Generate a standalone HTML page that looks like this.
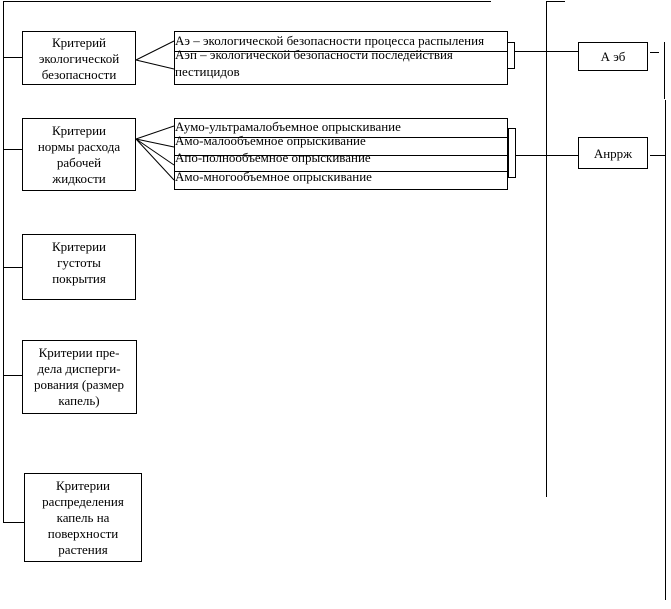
<!DOCTYPE html>
<html><head><meta charset="utf-8"><style>
html,body{margin:0;padding:0;background:#fff;}
svg text{font-family:"Liberation Serif",serif;font-size:13px;fill:#000;}
</style></head><body>
<svg width="671" height="604" viewBox="0 0 671 604" xmlns="http://www.w3.org/2000/svg" stroke="#000" stroke-width="1" fill="none" shape-rendering="crispEdges">
<line x1="3" y1="1.5" x2="491" y2="1.5"/>
<line x1="3.5" y1="1" x2="3.5" y2="522"/>
<line x1="3" y1="57.5" x2="23" y2="57.5"/>
<line x1="3" y1="149.5" x2="23" y2="149.5"/>
<line x1="3" y1="267.5" x2="23" y2="267.5"/>
<line x1="3" y1="375.5" x2="23" y2="375.5"/>
<line x1="3" y1="522.5" x2="24" y2="522.5"/>
<rect x="22.5" y="31.5" width="113" height="53"/>
<rect x="22.5" y="118.5" width="113" height="72"/>
<rect x="22.5" y="234.5" width="113" height="65"/>
<rect x="22.5" y="340.5" width="114" height="73"/>
<rect x="24.5" y="473.5" width="117" height="88"/>
<g shape-rendering="auto">
<line x1="136" y1="60" x2="174" y2="41"/>
<line x1="136" y1="60" x2="174" y2="69"/>
<line x1="136" y1="139" x2="174" y2="126"/>
<line x1="136" y1="139" x2="174" y2="147"/>
<line x1="136" y1="139" x2="174" y2="165"/>
<line x1="136" y1="139" x2="174" y2="180"/>
</g>
<rect x="174.5" y="31.5" width="333" height="53"/>
<line x1="174" y1="51.5" x2="507" y2="51.5"/>
<rect x="507.5" y="42.5" width="7" height="26"/>
<rect x="174.5" y="118.5" width="333" height="71"/>
<line x1="174" y1="137.5" x2="507" y2="137.5"/>
<line x1="174" y1="155.5" x2="507" y2="155.5"/>
<line x1="174" y1="171.5" x2="507" y2="171.5"/>
<rect x="508.5" y="128.5" width="7" height="49"/>
<line x1="546.5" y1="1" x2="546.5" y2="497"/>
<line x1="546" y1="1.5" x2="565" y2="1.5"/>
<line x1="514" y1="51.5" x2="578" y2="51.5"/>
<line x1="515" y1="155.5" x2="578" y2="155.5"/>
<rect x="578.5" y="42.5" width="69" height="28"/>
<rect x="578.5" y="137.5" width="69" height="31"/>
<line x1="650" y1="52.5" x2="659" y2="52.5"/>
<line x1="650" y1="155.5" x2="665" y2="155.5"/>
<line x1="664.5" y1="42" x2="664.5" y2="99"/>
<line x1="665.5" y1="100" x2="665.5" y2="600"/>
<g stroke="none" fill="#000">
<text x="79" y="47" text-anchor="middle">Критерий</text>
<text x="79" y="63" text-anchor="middle">экологической</text>
<text x="79" y="79" text-anchor="middle">безопасности</text>
<text x="79" y="135" text-anchor="middle">Критерии</text>
<text x="79" y="151" text-anchor="middle">нормы расхода</text>
<text x="79" y="167" text-anchor="middle">рабочей</text>
<text x="79" y="183" text-anchor="middle">жидкости</text>
<text x="79" y="251" text-anchor="middle">Критерии</text>
<text x="79" y="267" text-anchor="middle">густоты</text>
<text x="79" y="283" text-anchor="middle">покрытия</text>
<text x="79" y="357" text-anchor="middle">Критерии пре-</text>
<text x="79" y="373" text-anchor="middle">дела дисперги-</text>
<text x="79" y="389" text-anchor="middle">рования (размер</text>
<text x="79" y="405" text-anchor="middle">капель)</text>
<text x="83" y="490" text-anchor="middle">Критерии</text>
<text x="83" y="506" text-anchor="middle">распределения</text>
<text x="83" y="522" text-anchor="middle">капель на</text>
<text x="83" y="538" text-anchor="middle">поверхности</text>
<text x="83" y="554" text-anchor="middle">растения</text>
<text x="175" y="45">Аэ – экологической безопасности процесса распыления</text>
<text x="175" y="59">Аэп – экологической безопасности последействия</text>
<text x="175" y="76">пестицидов</text>
<text x="175" y="131">Аумо-ультрамалобъемное опрыскивание</text>
<text x="175" y="145">Амо-малообъемное опрыскивание</text>
<text x="175" y="162">Апо-полнообъемное опрыскивание</text>
<text x="175" y="181">Амо-многообъемное опрыскивание</text>
<text x="613" y="61" text-anchor="middle">А эб</text>
<text x="613" y="158" text-anchor="middle">Анррж</text>
</g>
</svg>
</body></html>
